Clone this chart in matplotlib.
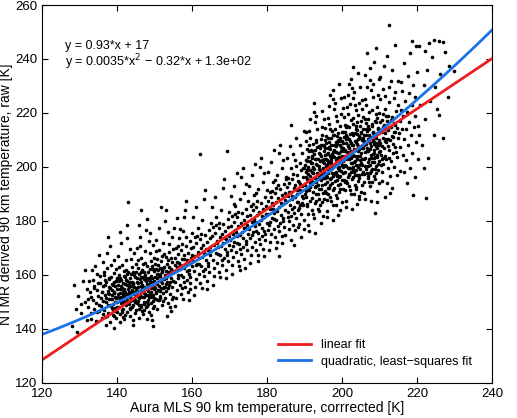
import numpy as np
import matplotlib
matplotlib.use("Agg")
import matplotlib.pyplot as plt

plt.rcParams['font.family'] = ['Liberation Sans', 'DejaVu Sans']

# fit coefficients (highest power first)
linear_coef = [0.93, 17]
quad_coef = [0.0035, -0.32, 126]

fit_labels = ["linear fit", "quadratic, least\u2212squares fit"]
eq_linear = "y = 0.93*x + 17"
eq_quad = "y = 0.0035*x$^2$ \u2212 0.32*x + 1.3e+02"

# scatter points (MLS corrected, NTMR raw)
pts_left = [(127.8,141.2),(128.9,147.5),(129.6,152.3),(130.4,145.8),(130.9,157.6),(131.3,150.1),(131.8,143.4),(132.0,154.9),(128.4,156.1),(130.2,149.3),(131.5,161.8),(129.3,138.9),
(132.3,148.2),(132.7,153.6),(133.1,145.9),(133.4,158.3),(133.6,150.7),(133.9,155.2),(134.2,142.8),(134.4,149.5),(134.7,160.4),(134.9,152.1),(135.1,146.7),(135.3,156.9),(135.6,151.3),(135.8,144.1),(132.5,157.8),(133.0,151.9),(133.8,147.3),(134.1,163.2),(134.6,154.5),(135.0,149.0),(135.4,159.7),(135.9,153.8),(132.9,143.6),(133.3,162.0),(134.5,146.2),(135.2,167.4),(135.7,148.6),(133.7,156.0),(132.1,151.0),(134.8,157.1)]

pts_low = [(136.1,150.3),(136.2,155.8),(136.4,147.1),(136.5,159.9),(136.7,152.6),(136.8,144.3),(137.0,157.4),(137.1,149.8),(137.2,162.5),(137.4,153.9),(137.5,146.0),(137.7,151.2),(137.8,158.6),(138.0,142.7),(138.1,155.1),(138.2,148.4),(138.4,163.8),(138.5,150.9),(138.7,156.7),(138.8,145.2),(139.0,153.3),(139.1,160.8),(139.3,147.6),(139.4,151.8),(139.6,157.9),(139.7,143.9),(139.9,154.6),(136.3,164.9),(136.9,141.5),(137.3,168.2),(137.9,153.0),(138.3,159.3),(138.9,149.2),(139.2,165.7),(139.8,150.0),(136.6,156.4),(137.6,148.9),(138.6,152.4),(139.5,146.5),(136.0,153.7),(137.3,144.8),(138.1,170.6),(139.0,157.2),(139.6,162.3),(136.4,161.1),(137.0,151.4),(138.5,154.3),(139.2,140.3),(139.9,148.1),(136.8,158.0),(137.7,155.6),(138.8,147.0),(139.4,156.0),(136.2,145.5),(137.5,174.1),
(140.1,151.7),(140.2,156.3),(140.4,148.2),(140.5,160.1),(140.6,153.4),(140.8,145.6),(140.9,158.2),(141.0,150.5),(141.2,163.7),(141.3,155.0),(141.4,147.4),(141.6,152.8),(141.7,159.5),(141.9,143.8),(142.0,156.6),(142.1,150.0),(142.3,165.4),(142.4,153.1),(142.5,157.8),(142.7,146.3),(142.8,154.7),(142.9,161.2),(143.1,149.1),(143.2,152.2),(143.3,158.9),(143.5,144.9),(143.6,155.9),(143.8,151.0),(143.9,162.8),(144.0,148.0),(144.2,157.0),(144.3,153.8),(144.5,168.3),(144.6,150.8),(144.7,159.4),(144.9,146.9),(140.3,167.0),(140.7,142.4),(141.1,171.9),(141.5,154.2),(141.8,161.4),(142.2,148.7),(142.6,173.5),(143.0,156.1),(143.4,150.2),(143.7,166.0),(144.1,143.2),(144.4,155.4),(144.8,152.5),(140.0,158.7),(140.9,149.6),(141.4,157.1),(142.1,145.1),(142.9,187.0),(143.6,160.2),(144.2,141.6),(144.9,163.9),(140.6,154.9),(141.3,146.1),(142.4,162.0),(143.1,153.6),(143.9,157.5),(144.6,145.8),(140.4,163.1),(141.9,152.0),(142.7,150.7),(143.5,169.7),(144.3,161.0),(140.8,175.8),(141.6,144.5),(142.0,159.1),(143.3,147.8),(144.0,154.0),(144.7,149.9),(142.5,178.5),
(145.1,154.1),(145.2,158.9),(145.4,150.3),(145.5,162.6),(145.6,155.7),(145.8,147.5),(145.9,160.4),(146.0,152.7),(146.2,166.1),(146.3,157.2),(146.4,149.0),(146.6,154.9),(146.7,161.9),(146.9,145.6),(147.0,158.5),(147.1,151.8),(147.3,168.8),(147.4,155.3),(147.5,159.8),(147.7,148.2),(147.8,156.6),(147.9,163.4),(148.1,150.8),(148.2,154.2),(148.3,160.9),(148.5,146.4),(148.6,157.9),(148.8,152.9),(148.9,165.2),(149.0,149.7),(149.2,159.0),(149.3,155.8),(149.5,171.0),(149.6,152.4),(149.7,161.5),(149.9,148.6),(145.3,169.9),(145.7,144.1),(146.1,174.2),(146.5,156.4),(146.8,163.9),(147.2,150.1),(147.6,176.8),(148.0,158.1),(148.4,152.0),(148.7,168.1),(149.1,145.0),(149.4,157.4),(149.8,154.7),(145.0,161.0),(145.9,151.3),(146.4,159.3),(147.1,147.0),(147.8,180.9),(148.6,162.3),(149.2,143.3),(149.9,166.3),(145.6,157.0),(146.3,148.1),(147.4,164.5),(148.1,155.6),(148.9,159.6),(149.6,147.9),(145.4,165.6),(146.9,153.9),(147.7,152.5),(148.5,172.6),(149.3,163.2),(145.8,178.4),(146.6,146.8),(147.0,161.1),(148.3,149.4),(149.0,156.2),(149.7,151.6),(146.2,183.9),(147.9,143.7),(145.2,152.2),(148.8,175.5),(146.0,170.8),(149.4,140.9),
(150.1,157.3),(150.2,162.1),(150.4,153.5),(150.5,165.8),(150.6,158.9),(150.8,150.7),(150.9,163.6),(151.0,155.9),(151.2,169.3),(151.3,160.4),(151.4,152.2),(151.6,158.1),(151.7,165.1),(151.9,148.8),(152.0,161.7),(152.1,155.0),(152.3,172.0),(152.4,158.5),(152.5,163.0),(152.7,151.4),(152.8,159.8),(152.9,166.6),(153.1,154.0),(153.2,157.4),(153.3,164.1),(153.5,149.6),(153.6,161.1),(153.8,156.1),(153.9,168.4),(154.0,152.9),(154.2,162.2),(154.3,159.0),(154.5,174.2),(154.6,155.6),(154.7,164.7),(154.9,151.8),(150.3,173.1),(150.7,147.3),(151.1,177.4),(151.5,159.6),(151.8,167.1),(152.2,153.3),(152.6,180.0),(153.0,161.3),(153.4,155.2),(153.7,171.3),(154.1,148.2),(154.4,160.6),(154.8,157.9),(150.0,164.2),(150.9,154.5),(151.4,162.5),(152.1,150.2),(152.9,184.1),(153.6,165.5),(154.2,146.5),(154.9,169.5),(150.6,160.2),(151.3,151.3),(152.4,167.7),(153.1,158.8),(153.9,162.8),(154.6,151.1),(150.4,168.8),(151.9,157.1),(152.7,155.7),(153.5,175.8),(154.3,166.4),(151.6,185.3),(153.2,144.6)]

# extra points in the dense lower core
pts_low_core = [(138.3,151.2),(138.9,156.4),(139.5,149.8),(140.2,153.0),(140.9,155.9),(141.5,150.3),(142.2,158.1),(142.8,152.4),(143.4,147.2),(144.1,156.8),(144.7,153.1),(145.3,149.5),(146.0,158.4),(146.6,152.0),(147.2,155.7),(147.9,150.0),(148.5,158.8),(149.1,153.5),(149.8,157.9),(150.4,151.1),(151.0,159.6),(151.7,155.3),(138.6,147.9),(139.2,153.6),(139.9,158.3),(140.6,150.9),(141.2,147.0),(141.9,154.9),(142.5,160.2),(143.1,155.4),(143.8,150.6),(144.4,159.8),(145.0,155.2),(145.7,151.9),(146.3,161.0),(147.0,149.3),(147.6,157.6),(148.2,152.6),(148.9,155.1),(149.5,162.1),(150.1,155.0),(150.8,161.8),(151.4,153.9),(152.0,158.6),(137.6,153.2),(138.1,149.0),(140.0,146.4),(140.8,159.0),(141.7,152.5),(142.3,149.9),(143.0,157.3),(143.6,153.0),(144.3,148.8),(145.5,153.9),(146.2,156.0),(146.9,159.3),(147.5,152.8),(148.0,148.5),(148.7,157.0),(149.4,150.4),(150.0,159.1),(150.6,156.7),(151.3,157.8),(152.3,162.4),(153.0,156.5),(153.7,160.9),(137.9,158.9),(139.0,144.9),(139.7,151.5),(140.4,157.6),(141.0,152.0),(141.6,149.2),(142.0,153.8),(142.7,156.2),(143.3,151.8),(143.9,154.3),(144.5,151.0),(145.2,157.4),(145.8,148.9),(146.4,154.5),(147.1,153.2),(147.7,158.9),(148.4,156.3),(149.0,151.9),(149.7,155.4),(150.3,153.4),(151.1,150.6),(151.8,161.2),(152.5,155.6),(153.3,159.5),(154.0,157.3),(154.8,161.5),(155.5,163.8),(156.3,158.9),(157.0,162.6),(157.8,166.0),(158.5,164.7),(159.2,161.9),(160.0,167.4),(161.0,163.5)]

pts_mid = [(155.1,161.0),(155.3,166.3),(155.4,157.2),(155.6,169.9),(155.8,163.1),(155.9,154.4),(156.1,167.7),(156.2,160.1),(156.4,173.5),(156.5,164.6),(156.7,156.3),(156.8,162.3),(157.0,169.3),(157.1,152.9),(157.3,165.9),(157.4,159.2),(157.6,176.2),(157.7,162.7),(157.9,167.2),(158.0,155.5),(158.2,164.0),(158.3,170.8),(158.5,158.2),(158.6,161.6),(158.8,168.3),(158.9,153.7),(159.1,165.3),(159.2,160.3),(159.4,172.6),(159.5,157.1),(159.7,166.4),(159.8,163.2),(155.2,177.3),(155.7,151.5),(156.0,181.0),(156.6,163.8),(157.2,171.3),(157.8,157.5),(158.1,184.2),(158.7,165.5),(159.3,159.4),(159.9,175.4),(155.5,148.4),(156.3,170.6),(156.9,159.8),(157.5,151.1),(158.4,187.5),(159.0,150.6),(159.6,169.8),(155.9,164.8),(156.7,176.9),(157.3,155.1),(158.2,173.9),(159.4,154.9),(157.9,181.6),
(160.1,165.0),(160.3,170.3),(160.4,161.4),(160.6,173.9),(160.8,167.1),(160.9,158.6),(161.1,171.7),(161.2,164.2),(161.4,177.5),(161.5,168.6),(161.7,160.5),(161.8,166.4),(162.0,173.3),(162.1,157.0),(162.3,170.0),(162.4,163.3),(162.6,180.2),(162.7,166.7),(162.9,171.2),(163.0,159.6),(163.2,168.0),(163.3,174.8),(163.5,162.3),(163.6,165.6),(163.8,172.3),(163.9,157.8),(164.1,169.3),(164.2,164.4),(164.4,176.6),(164.5,161.2),(164.7,170.4),(164.8,167.2),(160.2,181.3),(160.7,155.6),(161.0,185.0),(161.6,167.8),(162.2,175.3),(162.8,161.6),(163.1,188.2),(163.7,169.5),(164.3,163.4),(164.9,179.4),(160.5,152.4),(161.3,174.6),(161.9,163.9),(162.5,155.2),(163.4,191.5),(164.0,154.7),(164.6,173.8),(162.0,204.8),
(165.1,169.0),(165.3,174.3),(165.4,165.4),(165.6,177.9),(165.8,171.1),(165.9,162.6),(166.1,175.7),(166.2,168.2),(166.4,181.5),(166.5,172.6),(166.7,164.5),(166.8,170.4),(167.0,177.3),(167.1,161.0),(167.3,174.0),(167.4,167.3),(167.6,184.2),(167.7,170.7),(167.9,175.2),(168.0,163.6),(168.2,172.0),(168.3,178.8),(168.5,166.3),(168.6,169.6),(168.8,176.3),(168.9,161.8),(169.1,173.3),(169.2,168.4),(169.4,180.6),(169.5,165.2),(169.7,174.4),(169.8,171.2),(165.2,185.3),(165.7,159.6),(166.0,189.0),(166.6,171.8),(167.2,179.3),(167.8,165.6),(168.1,192.2),(168.7,173.5),(169.3,167.4),(169.9,183.4),(165.5,156.4),(166.3,178.6),(166.9,167.9),(167.5,159.2),(168.4,195.5),(169.0,158.7),(169.6,177.8),(169.2,206.0),
(170.1,173.0),(170.3,178.3),(170.4,169.4),(170.6,181.9),(170.8,175.1),(170.9,166.6),(171.1,179.7),(171.2,172.2),(171.4,185.5),(171.5,176.6),(171.7,168.5),(171.8,174.4),(172.0,181.3),(172.1,165.0),(172.3,178.0),(172.4,171.3),(172.6,188.2),(172.7,174.7),(172.9,179.2),(173.0,167.6),(173.2,176.0),(173.3,182.8),(173.5,170.3),(173.6,173.6),(173.8,180.3),(173.9,165.8),(174.1,177.3),(174.2,172.4),(174.4,184.6),(174.5,169.2),(174.7,178.4),(174.8,175.2),(170.2,189.3),(170.7,163.6),(171.0,193.0),(171.6,175.8),(172.2,183.3),(172.8,169.6),(173.1,196.2),(173.7,177.5),(174.3,171.4),(174.9,187.4),(170.5,160.4),(171.3,182.6),(171.9,171.9),(172.5,163.2),(173.4,199.5),(174.0,162.7),(174.6,181.8),(171.1,186.1),(172.7,161.9),(173.9,190.3),(170.8,170.9),(174.2,193.7),(172.0,197.8),
(175.1,177.2),(175.3,182.1),(175.4,173.8),(175.6,185.6),(175.8,179.5),(175.9,170.4),(176.1,183.9),(176.2,176.0),(176.4,189.7),(176.5,180.8),(176.7,172.3),(176.8,178.2),(177.0,185.1),(177.1,169.2),(177.3,182.2),(177.4,175.5),(177.6,192.0),(177.7,178.9),(177.9,183.4),(178.0,171.4),(178.2,180.2),(178.3,186.6),(178.5,174.5),(178.6,177.4),(178.8,184.5),(178.9,169.6),(179.1,181.5),(179.2,176.2),(179.4,188.8),(179.5,173.0),(179.7,182.6),(179.8,179.4),(175.2,193.1),(175.7,167.4),(176.0,197.2),(176.6,179.6),(177.2,187.5),(177.8,173.4),(178.1,200.0),(178.7,181.7),(179.3,175.2),(179.9,191.6),(175.5,164.6),(176.3,186.4),(176.9,176.1),(177.5,167.4),(178.4,203.3),(179.0,166.9),(179.6,185.6),(176.7,201.0),(177.4,165.3),(178.8,194.5),(175.8,174.7),(179.2,197.9),(177.0,190.2),
(180.1,182.4),(180.3,187.5),(180.4,178.6),(180.6,190.8),(180.8,184.3),(180.9,175.2),(181.1,188.9),(181.2,181.2),(181.4,194.5),(181.5,185.9),(181.7,177.1),(181.8,183.0),(182.0,190.3),(182.1,174.0),(182.3,187.2),(182.4,180.3),(182.6,197.2),(182.7,183.7),(182.9,188.4),(183.0,176.2),(183.2,185.0),(183.3,191.8),(183.5,179.3),(183.6,182.2),(183.8,189.7),(183.9,174.4),(184.1,186.3),(184.2,181.0),(184.4,193.8),(184.5,177.8),(184.7,187.8),(184.8,184.2),(180.2,198.3),(180.7,172.2),(181.0,202.0),(181.6,184.4),(182.2,192.3),(182.8,178.2),(183.1,205.2),(183.7,186.5),(184.3,180.0),(184.9,196.4),(180.5,169.4),(181.3,191.2),(181.9,180.9),(182.5,172.2),(183.4,208.3),(184.0,171.7),(184.6,190.4),(181.7,206.3),(182.4,170.1),(183.8,199.5),(180.8,179.5),(184.2,202.7),(182.0,195.2),(183.0,167.0),(181.2,186.7),(184.8,174.9),(182.9,193.4),(180.3,176.8)]

pts_high = [(185.1,187.1),(185.2,192.4),(185.4,183.2),(185.5,196.0),(185.6,189.3),(185.8,180.1),(185.9,194.1),(186.0,186.0),(186.2,199.8),(186.3,190.8),(186.4,181.9),(186.6,188.0),(186.7,195.5),(186.9,178.6),(187.0,192.3),(187.1,185.1),(187.3,202.6),(187.4,188.7),(187.5,193.4),(187.7,181.0),(187.8,190.0),(187.9,197.1),(188.1,184.1),(188.2,187.1),(188.3,194.8),(188.5,179.0),(188.6,191.3),(188.8,186.0),(188.9,199.0),(189.0,182.6),(189.2,192.8),(189.3,189.2),(185.3,203.5),(185.7,176.9),(186.1,207.6),(186.5,189.4),(186.8,197.4),(187.2,183.0),(187.6,210.6),(188.0,191.5),(188.4,184.9),(188.7,201.6),(189.1,174.2),(189.4,196.2),(189.5,185.8),(189.7,177.0),(189.8,213.5),(189.9,180.4),(185.0,195.4),(186.2,172.9),(186.9,204.8),(187.3,176.5),(187.9,186.9),(188.6,208.2),(189.6,199.7),(185.8,190.9),(186.6,184.4),(187.7,200.3),(188.2,177.6),(189.2,205.0),(185.4,181.3),(186.3,215.4),(188.8,193.7),(187.0,171.1),(189.5,188.4),
(190.1,193.2),(190.2,198.1),(190.3,188.9),(190.5,202.2),(190.6,195.4),(190.7,185.7),(190.9,200.0),(191.0,191.5),(191.1,205.8),(191.3,196.7),(191.4,187.5),(191.5,193.9),(191.7,201.6),(191.8,184.1),(191.9,198.3),(192.1,190.9),(192.2,208.5),(192.3,194.6),(192.5,199.2),(192.6,186.6),(192.7,196.0),(192.9,203.1),(193.0,189.8),(193.1,192.9),(193.3,200.8),(193.4,184.6),(193.5,197.3),(193.7,191.9),(193.8,205.1),(193.9,188.3),(194.1,198.8),(194.2,195.2),(194.3,210.4),(194.5,186.9),(194.6,202.5),(194.7,193.5),(194.9,182.0),(190.4,209.5),(190.8,182.7),(191.2,213.4),(191.6,195.0),(192.0,203.4),(192.4,181.1),(192.8,216.5),(193.2,197.6),(193.6,190.1),(193.9,207.6),(194.4,179.3),(194.8,201.9),(190.0,200.9),(190.9,178.6),(191.4,210.9),(192.1,182.4),(192.7,192.6),(193.3,214.0),(194.0,204.8),(194.8,190.3),(190.6,206.7),(191.8,188.5),(192.5,220.2),(193.7,183.7),(194.3,197.0),(191.0,176.4),(192.2,199.9),(193.0,209.2),(194.6,214.8),(190.3,191.1),(191.5,217.6),(192.9,187.4),(194.1,185.8),(190.8,197.5),(191.9,206.0),(193.4,193.3),(194.9,208.1),(192.4,223.6),(190.5,186.1),(193.8,200.2),(191.3,202.3),(194.4,191.8),(192.6,175.6),(193.1,218.7),(190.2,212.9),(194.7,220.8),
(195.1,198.3),(195.2,203.0),(195.3,193.6),(195.5,207.1),(195.6,200.2),(195.7,190.4),(195.9,204.9),(196.0,196.4),(196.1,210.7),(196.3,201.6),(196.4,192.3),(196.5,198.8),(196.7,206.5),(196.8,188.9),(196.9,203.2),(197.1,195.8),(197.2,213.4),(197.3,199.5),(197.5,204.1),(197.6,191.5),(197.7,200.9),(197.9,208.0),(198.0,194.7),(198.1,197.8),(198.3,205.7),(198.4,189.5),(198.5,202.2),(198.7,196.8),(198.8,210.0),(198.9,193.2),(199.1,203.7),(199.2,200.1),(199.3,215.3),(199.5,191.8),(199.6,207.4),(199.7,198.4),(199.9,186.9),(195.4,214.4),(195.8,187.6),(196.2,218.3),(196.6,199.9),(197.0,208.3),(197.4,186.0),(197.8,221.4),(198.2,202.5),(198.6,195.0),(198.9,212.5),(199.4,184.2),(199.8,206.8),(195.0,205.8),(195.9,183.5),(196.4,215.8),(197.1,187.3),(197.7,197.5),(198.3,218.9),(199.0,209.7),(199.8,195.2),(195.6,211.6),(196.8,193.4),(197.5,225.1),(198.7,188.6),(199.3,201.9),(196.0,181.3),(197.2,204.8),(198.0,214.1),(199.6,219.7),(195.3,196.0),(196.5,222.5),(197.9,192.3),(199.1,190.7),(195.8,202.4),(196.9,210.9),(198.4,198.2),(199.9,213.0),(197.4,228.5),(195.5,191.0),(198.8,205.1),(196.3,207.2),(199.4,196.7),(197.6,180.5),(198.1,223.6),(195.2,217.8),(199.7,225.7),(196.7,195.6),(198.5,208.6),(195.9,199.3),(197.0,201.4),(199.0,199.0),(196.2,189.9),(198.6,217.0),(197.3,194.0),(199.5,203.4),(195.7,208.9),(198.2,185.8),(196.6,204.0),(199.2,230.9),(197.8,211.8),(195.1,188.0),(198.9,182.2),(196.8,226.8),
(200.1,202.3),(200.2,207.0),(200.3,197.6),(200.5,211.1),(200.6,204.2),(200.7,194.4),(200.9,208.9),(201.0,200.4),(201.1,214.7),(201.3,205.6),(201.4,196.3),(201.5,202.8),(201.7,210.5),(201.8,192.9),(201.9,207.2),(202.1,199.8),(202.2,217.4),(202.3,203.5),(202.5,208.1),(202.6,195.5),(202.7,204.9),(202.9,212.0),(203.0,198.7),(203.1,201.8),(203.3,209.7),(203.4,193.5),(203.5,206.2),(203.7,200.8),(203.8,214.0),(203.9,197.2),(204.1,207.7),(204.2,204.1),(204.3,219.3),(204.5,195.8),(204.6,211.4),(204.7,202.4),(204.9,190.9),(200.4,218.4),(200.8,191.6),(201.2,222.3),(201.6,203.9),(202.0,212.3),(202.4,190.0),(202.8,225.4),(203.2,206.5),(203.6,199.0),(203.9,216.5),(204.4,188.2),(204.8,210.8),(200.0,209.8),(200.9,187.5),(201.4,219.8),(202.1,191.3),(202.7,201.5),(203.3,222.9),(204.0,213.7),(204.8,199.2),(200.6,215.6),(201.8,197.4),(202.5,229.1),(203.7,192.6),(204.3,205.9),(201.0,185.3),(202.2,208.8),(203.0,218.1),(204.6,223.7),(200.3,200.0),(201.5,226.5),(202.9,196.3),(204.1,194.7),(200.8,206.4),(201.9,214.9),(203.4,202.2),(204.9,217.0),(202.4,232.5),(200.5,195.0),(203.8,209.1),(201.3,211.2),(204.4,200.7),(202.6,184.5),(203.1,227.6),(200.2,221.8),(204.7,229.7),(201.7,199.6),(203.5,212.6),(200.9,203.3),(202.0,205.4),(204.0,203.0),(201.2,193.9),(203.6,221.0),(202.3,198.0),(204.5,207.4),(200.7,212.9),(203.2,189.8),(201.6,208.0),(204.2,234.9),(202.8,215.8),(200.1,192.0),(203.9,186.2),(201.8,230.8),(200.4,226.0),(203.0,237.2),(202.0,223.4),(204.6,189.4),
(205.1,205.3),(205.2,210.0),(205.3,200.6),(205.5,214.1),(205.6,207.2),(205.7,197.4),(205.9,211.9),(206.0,203.4),(206.1,217.7),(206.3,208.6),(206.4,199.3),(206.5,205.8),(206.7,213.5),(206.8,195.9),(206.9,210.2),(207.1,202.8),(207.2,220.4),(207.3,206.5),(207.5,211.1),(207.6,198.5),(207.7,207.9),(207.9,215.0),(208.0,201.7),(208.1,204.8),(208.3,212.7),(208.4,196.5),(208.5,209.2),(208.7,203.8),(208.8,217.0),(208.9,200.2),(209.1,210.7),(209.2,207.1),(209.3,222.3),(209.5,198.8),(209.6,214.4),(209.7,205.4),(209.9,193.9),(205.4,221.4),(205.8,194.6),(206.2,225.3),(206.6,206.9),(207.0,215.3),(207.4,193.0),(207.8,228.4),(208.2,209.5),(208.6,202.0),(208.9,219.5),(209.4,191.2),(209.8,213.8),(205.0,212.8),(205.9,190.5),(206.4,222.8),(207.1,194.3),(207.7,204.5),(208.3,225.9),(209.0,216.7),(209.8,202.2),(205.6,218.6),(206.8,200.4),(207.5,232.1),(208.7,195.6),(209.3,208.9),(206.0,188.3),(207.2,211.8),(208.0,221.1),(209.6,226.7),(205.3,203.0),(206.5,229.5),(207.9,199.3),(209.1,197.7),(205.8,209.4),(206.9,217.9),(208.4,205.2),(209.9,220.0),(207.4,236.5),(205.5,198.0),(208.8,212.1),(206.3,214.2),(209.4,203.7),(207.6,187.5),(208.1,230.6),(205.2,224.8),(209.7,232.7),(206.7,242.3),(208.5,239.0),(207.0,196.6),(209.2,186.9),(206.1,233.9),(208.9,244.1),(212.5,252.7)]

# extra points in the dense upper core
pts_high_core = [(190.4,196.1),(190.9,203.8),(191.5,199.0),(192.0,193.7),(192.6,206.3),(193.1,201.2),(193.7,196.4),(194.2,208.0),(194.8,199.7),(195.3,204.4),(195.9,194.6),(196.4,209.2),(197.0,199.1),(197.5,205.6),(198.1,201.0),(198.6,211.4),(199.2,196.2),(199.7,205.9),(200.3,213.0),(200.8,200.6),(201.4,207.9),(201.9,197.0),(202.5,212.6),(203.0,204.4),(203.6,209.5),(204.1,199.9),(204.7,215.2),(205.2,206.9),(205.8,203.1),(206.3,212.0),(206.9,201.9),(207.4,208.7),(208.0,215.9),(208.5,206.1),(209.1,212.3),(209.6,201.1),(210.2,216.8),(210.7,207.6),(211.3,204.0),(211.8,214.2),
(190.7,191.6),(191.2,208.1),(191.8,203.9),(192.3,199.5),(192.9,209.9),(193.4,195.5),(194.0,202.1),(194.5,211.9),(195.1,201.3),(195.6,196.9),(196.2,205.2),(196.7,213.9),(197.3,197.8),(197.8,203.6),(198.4,207.9),(198.9,199.5),(199.5,210.8),(200.0,204.0),(200.6,198.2),(201.1,210.4),(201.7,205.1),(202.2,201.3),(202.8,208.3),(203.3,196.9),(203.9,212.3),(204.4,206.7),(205.0,201.3),(205.5,210.6),(206.1,205.4),(206.6,197.6),(207.2,214.1),(207.7,203.2),(208.3,210.0),(208.8,199.4),(209.4,218.2),(209.9,208.3),(210.5,212.8),(211.0,203.2),(211.6,219.0),(212.1,210.5),
(189.8,199.6),(190.3,202.5),(191.0,195.2),(191.6,206.4),(192.1,197.9),(192.7,202.8),(193.2,207.3),(193.8,199.1),(194.3,204.0),(194.9,196.0),(195.4,210.1),(196.0,200.9),(196.5,207.4),(197.1,202.7),(197.6,196.6),(198.2,209.1),(198.7,203.3),(199.3,208.2),(199.8,200.9),(200.4,206.0),(200.9,211.8),(201.5,199.5),(202.0,209.5),(202.6,203.9),(203.1,198.2),(203.7,215.0),(204.2,210.3),(204.8,204.2),(205.3,197.5),(205.9,208.0),(206.4,216.4),(207.0,206.0),(207.5,200.7),(208.1,212.9),(208.6,208.6),(209.2,204.4),(209.7,210.1),(210.3,200.6),(210.8,214.9),(211.4,209.8),
(188.5,194.5),(189.2,186.6),(190.0,189.9),(190.6,198.8),(191.3,192.4),(191.9,201.4),(192.4,204.8),(193.0,194.3),(193.5,203.0),(194.1,207.2),(194.6,197.8),(195.2,207.6),(195.7,203.1),(196.3,197.6),(196.8,202.3),(197.4,211.7),(197.9,206.4),(198.5,197.1),(199.0,205.3),(199.6,202.0),(200.2,208.9),(200.7,203.0),(201.3,215.1),(201.8,202.8),(202.4,206.0),(202.9,200.0),(203.5,204.1),(204.0,208.5),(204.6,197.2),(205.1,212.7),(205.7,209.8),(206.2,200.3),(206.8,209.7),(207.3,197.9),(207.9,211.0),(208.4,203.3),(209.0,207.8),(209.5,213.9),(210.1,205.9),(210.6,202.8),(212.3,207.7),(212.9,217.3),(213.5,211.0),(214.2,215.5),(196.1,192.1),(199.4,193.8),(201.0,194.9),(205.4,193.2),(207.9,194.4),(203.8,191.9)]

pts_right = [(210.1,209.0),(210.3,213.6),(210.4,204.3),(210.6,217.5),(210.8,210.9),(210.9,201.0),(211.1,215.6),(211.2,207.2),(211.4,221.3),(211.5,212.4),(211.7,202.9),(211.8,209.4),(212.0,217.0),(212.1,199.5),(212.3,213.8),(212.4,206.4),(212.6,224.0),(212.7,210.1),(212.9,214.7),(213.0,202.1),(213.2,211.5),(213.3,218.6),(213.5,205.3),(213.6,208.4),(213.8,216.3),(213.9,200.1),(214.1,212.8),(214.2,207.4),(214.4,220.6),(214.5,203.8),(214.7,214.3),(214.8,210.7),(210.2,225.0),(210.7,198.2),(211.0,228.9),(211.6,210.5),(212.2,219.0),(212.8,196.6),(213.1,232.0),(213.7,213.1),(214.3,205.6),(214.9,223.1),(210.5,194.8),(211.3,226.4),(211.9,194.1),(212.5,229.8),(213.4,192.3),(214.0,227.6),(214.6,197.0),(210.0,233.2),(211.2,237.4),(212.0,241.0),(213.2,236.1),(214.1,245.2),(212.7,190.4),(211.5,188.7),(214.8,231.8),(210.9,219.8),(213.8,225.4),(212.4,203.3),
(215.1,212.6),(215.3,217.1),(215.5,207.4),(215.7,221.0),(215.9,214.2),(216.1,204.6),(216.3,218.9),(216.5,210.3),(216.7,224.6),(216.9,202.7),(217.1,213.9),(217.3,220.5),(217.5,208.0),(217.7,227.4),(217.9,216.7),(218.1,199.8),(218.3,211.7),(218.5,222.8),(218.7,205.3),(218.9,230.5),(219.1,214.9),(219.3,196.4),(219.5,225.9),(219.7,209.4),(219.9,235.2),(215.6,231.3),(216.4,238.5),(217.2,194.0),(218.0,242.1),(218.8,189.6),(219.4,218.7),(216.0,228.0),(217.6,233.7),(215.4,198.5),(218.6,246.6),
(220.3,215.2),(220.8,222.9),(221.2,208.1),(221.7,230.2),(222.1,217.6),(222.6,235.8),(223.0,203.2),(223.5,224.4),(224.0,240.6),(224.4,212.0),(224.8,229.7),(220.6,244.8),(221.9,199.6),(223.2,246.0),(222.4,188.5),
(225.4,221.5),(226.1,234.3),(226.8,210.9),(227.5,242.7),(228.2,226.1),(225.9,246.5),(229.8,235.7),(228.5,237.5),(224.5,247.0),(226.8,246.4),(219.6,245.0),(222.2,243.0),(225.8,219.3),(220.5,212.0),(208.8,183.0),(216.5,198.0),(220.2,203.0)]

pts = np.array(pts_left + pts_low + pts_low_core + pts_mid + pts_high + pts_high_core + pts_right)

fig = plt.figure(figsize=(5.17, 4.18), dpi=100)
ax = fig.add_axes([0.082, 0.084, 0.870, 0.904])

ax.plot(pts[:, 0], pts[:, 1], 'o', color='black', markersize=2.6, markeredgewidth=0)

xx = np.linspace(120, 240, 200)
ax.plot(xx, np.polyval(linear_coef, xx), color='#ee1c1c', lw=2.0, label=fit_labels[0])
ax.plot(xx, np.polyval(quad_coef, xx), color='#1a73e6', lw=2.0, label=fit_labels[1])

ax.text(126, 244.8, eq_linear, fontsize=9, va='center')
ax.text(126, 238.9, eq_quad, fontsize=9, va='center')

ax.set_xlim(120, 240)
ax.set_ylim(120, 260)
ax.set_xticks(np.arange(120, 241, 20))
ax.set_yticks(np.arange(120, 261, 20))
ax.tick_params(direction='in', top=True, right=True, labelsize=9.5, length=4)
ax.set_xlabel("Aura MLS 90 km temperature, corrrected [K]", fontsize=10, labelpad=1)
ax.set_ylabel("NTMR derived 90 km temperature, raw [K]", fontsize=10, labelpad=2)

ax.legend(loc='lower right', frameon=False, fontsize=9, handlelength=2.6,
          labelspacing=0.35, bbox_to_anchor=(0.98, 0.01))

fig.savefig("out.png", dpi=100)
